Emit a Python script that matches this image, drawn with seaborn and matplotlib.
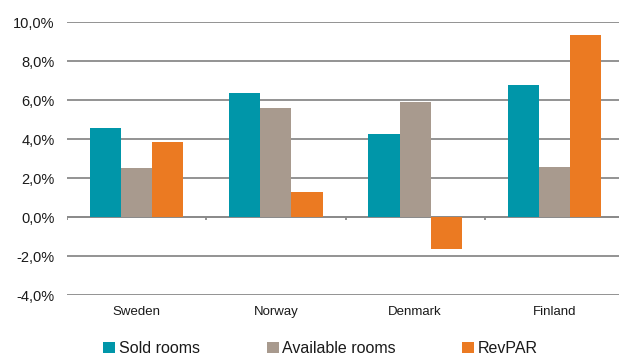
import numpy as np
import pandas as pd
import matplotlib
matplotlib.use("Agg")
import matplotlib.pyplot as plt
from matplotlib.ticker import FuncFormatter
import seaborn as sns

# --- data ---
countries = ["Sweden", "Norway", "Denmark", "Finland"]
series = ["Sold rooms", "Available rooms", "RevPAR"]
sold_rooms = [4.6, 6.4, 4.25, 6.8]
available_rooms = [2.55, 5.6, 5.9, 2.6]
revpar = [3.85, 1.3, -1.6, 9.35]
colors = ["#0096A9", "#A89A8E", "#EB7A22"]

df = pd.DataFrame({
    "country": countries * 3,
    "series": np.repeat(series, len(countries)),
    "value": sold_rooms + available_rooms + revpar,
})

sns.set_style("white")
plt.rcParams["font.family"] = ["Liberation Sans", "DejaVu Sans"]

fig = plt.figure(figsize=(6.19, 3.56), dpi=100)
ax = fig.add_axes([67 / 619, 60.7 / 356, 557 / 619, 273 / 356])

sns.barplot(data=df, x="country", y="value", hue="series", order=countries,
            hue_order=series, palette=colors, saturation=1, width=0.67,
            linewidth=0, ax=ax, zorder=3)

ax.set_ylim(-4, 10)
ax.set_xlim(-0.5, len(countries) - 0.5)
ax.set_yticks(np.arange(-4, 11, 2))
ax.yaxis.set_major_formatter(FuncFormatter(lambda v, p: f"{v:.1f}%".replace(".", ",")))
ax.grid(axis="y", color="#8a8a8a", linewidth=1.3, zorder=0)
ax.grid(axis="x", visible=False)
for s in ax.spines.values():
    s.set_visible(False)
ax.tick_params(axis="y", length=0, pad=9, labelsize=10.5, colors="#1a1a1a")
ax.tick_params(axis="x", length=0, pad=8, labelsize=9.5, colors="#1a1a1a")
ax.set_xlabel("")
ax.set_ylabel("")

# zero line with category separator ticks
ax.axhline(0, color="#8a8a8a", linewidth=1.3, zorder=2)
bounds = np.arange(len(countries) + 1) - 0.5
ax.vlines(bounds, -0.15, 0, color="#8a8a8a", linewidth=1.3, zorder=2)

sns.move_legend(ax, "center", bbox_to_anchor=(0.5 - 25 / 557, -0.195), ncol=3,
                frameon=False, title=None, fontsize=11.5, handlelength=0.75,
                handleheight=0.75, handletextpad=0.2, columnspacing=4.2)
for t in ax.get_legend().get_texts():
    t.set_color("#1a1a1a")

fig.savefig("out.png", dpi=100)
